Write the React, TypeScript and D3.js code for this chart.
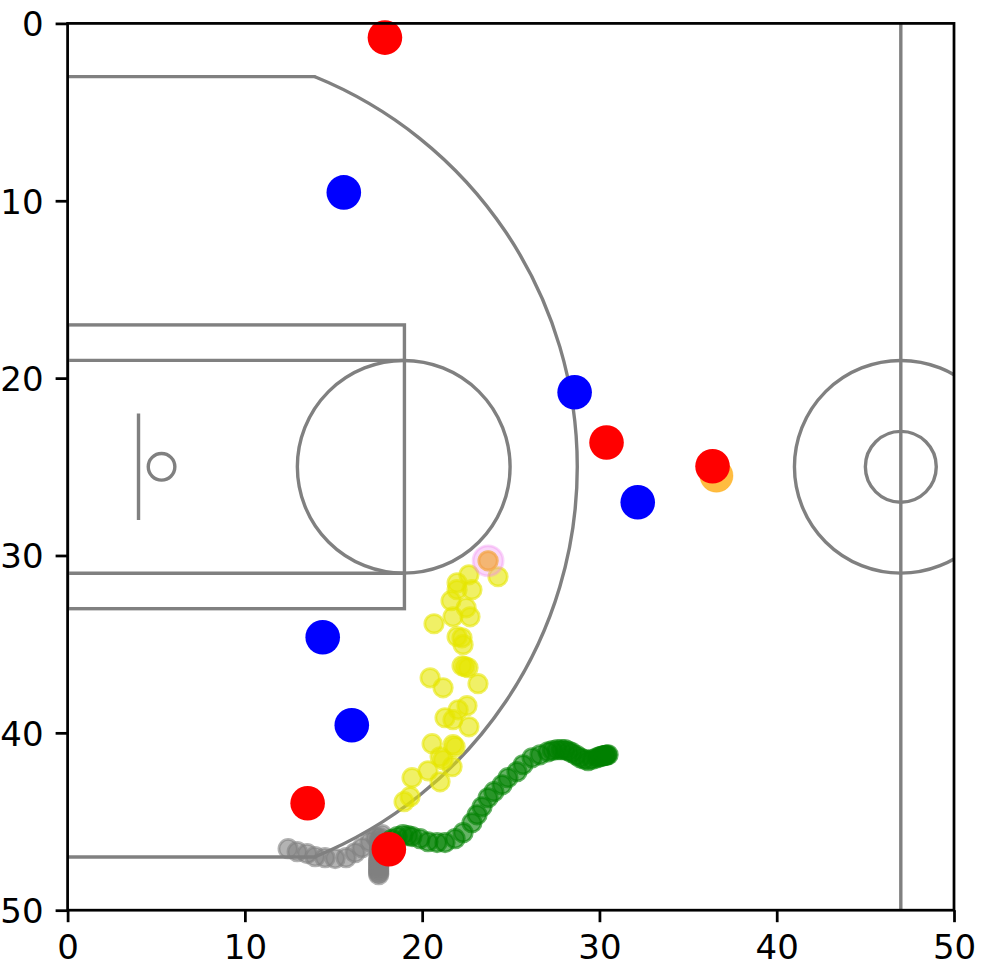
import React, { useEffect, useRef } from "react";
import * as d3 from "d3";

const W = 983;
const H = 979;
const margin = { top: 23.4, right: 29, bottom: 68.8, left: 67.6 };

const xTicks = [0, 10, 20, 30, 40, 50];
const yTicks = [0, 10, 20, 30, 40, 50];

// [x, y] in feet
const yellowTrail = [
  [23.72, 30.3], [24.28, 31.2], [22.64, 31.09], [21.97, 31.54], [22.81, 31.93], [21.97, 31.93],
  [21.63, 32.55], [22.48, 32.95], [22.7, 33.46], [21.74, 33.46], [20.67, 33.85], [21.97, 34.58],
  [22.25, 34.64], [22.31, 35.03], [22.25, 36.22], [22.59, 36.33], [22.42, 36.27], [20.45, 36.9],
  [21.18, 37.46], [23.15, 37.23], [22.53, 38.47], [22.03, 38.7], [21.29, 39.15], [21.74, 39.26],
  [22.64, 39.66], [20.56, 40.61], [21.74, 40.67], [21.86, 40.78], [21.01, 41.35], [21.18, 41.52],
  [21.69, 41.91], [20.33, 42.14], [21.01, 42.76], [19.43, 42.53], [19.32, 43.6], [18.98, 43.88],
];
const greenTrail = [
  [18.3, 46.0], [18.6, 45.85], [18.92, 45.74], [19.2, 45.8], [19.43, 45.85], [19.88, 45.97],
  [20.33, 46.14], [20.84, 46.19], [21.29, 46.19], [21.86, 45.97], [22.31, 45.63], [22.81, 45.07],
  [23.1, 44.62], [23.38, 44.17], [23.72, 43.66], [24.05, 43.32], [24.51, 42.93], [24.84, 42.53],
  [25.35, 42.19], [25.69, 41.8], [26.2, 41.41], [26.65, 41.24], [27.1, 41.07], [27.35, 41.0],
  [27.61, 40.95], [27.85, 40.95], [28.06, 40.95], [28.25, 41.03], [28.45, 41.12], [28.7, 41.27],
  [28.91, 41.41], [29.15, 41.5], [29.36, 41.57], [29.6, 41.5], [29.86, 41.41], [30.0, 41.36],
  [30.1, 41.32], [30.2, 41.3], [30.3, 41.28], [30.35, 41.27], [30.42, 41.25], [30.49, 41.24],
];
const grayTrail = [
  [12.44, 46.53], [12.95, 46.7], [13.51, 46.81], [13.96, 46.98], [14.52, 47.04], [15.09, 47.09],
  [15.71, 47.04], [16.22, 46.76], [16.61, 46.48], [17.06, 46.14], [17.4, 45.9], [17.74, 45.74],
  [17.6, 45.9], [17.6, 46.1], [17.6, 46.3], [17.6, 46.45], [17.6, 46.6], [17.6, 46.75],
  [17.6, 46.9], [17.55, 47.05], [17.55, 47.2], [17.55, 47.3], [17.55, 47.4], [17.55, 47.5],
  [17.55, 47.6], [17.55, 47.7], [17.55, 47.8], [17.55, 47.9], [17.55, 48.0],
];
const redPlayers = [[17.9, 0.8], [30.4, 23.63], [36.38, 24.97], [13.54, 43.97], [18.12, 46.56]];
const bluePlayers = [[15.58, 9.53], [28.6, 20.8], [32.16, 27], [14.39, 34.61], [16.03, 39.57]];
const ballNow = [[36.6, 25.5]];
const ballEnd = [[23.72, 30.3]];
const ringEnd = [[23.72, 30.3]];

export default function App() {
  const xAxisRef = useRef<SVGGElement>(null);
  const yAxisRef = useRef<SVGGElement>(null);

  const x = d3.scaleLinear().domain([0, 50]).range([margin.left, W - margin.right]);
  const y = d3.scaleLinear().domain([0, 50]).range([margin.top, H - margin.bottom]);
  const k = x(1) - x(0);

  useEffect(() => {
    const fmt = (d: d3.NumberValue) => String(d);
    const xAxis = d3.axisBottom(x).tickValues(xTicks).tickFormat(fmt).tickSize(12).tickSizeOuter(0).tickPadding(12.5);
    const yAxis = d3.axisLeft(y).tickValues(yTicks).tickFormat(fmt).tickSize(12).tickSizeOuter(0).tickPadding(12);
    for (const [ref, axis] of [[xAxisRef, xAxis], [yAxisRef, yAxis]] as const) {
      const g = d3.select(ref.current!);
      g.call(axis as any);
      g.select(".domain").remove();
      g.selectAll("line").attr("stroke", "#000").attr("stroke-width", 2.75);
      g.selectAll("text").attr("fill", "#000").attr("font-size", 34).attr("font-family", "'DejaVu Sans'");
    }
    d3.select(yAxisRef.current!).selectAll("text").attr("dy", "0.36em");
  }, []);

  const threeAngle = Math.atan2(8.95, 22);
  const threeArc = d3.arc()({
    innerRadius: 23.75 * k,
    outerRadius: 23.75 * k,
    startAngle: threeAngle,
    endAngle: Math.PI - threeAngle,
  });

  const court = { fill: "none", stroke: "#808080", strokeWidth: 3.4 };
  const trail = (pts: number[][], color: string, r: number, op: number) =>
    pts.map(([a, b], i) => (
      <circle key={color + i} cx={x(a)} cy={y(b)} r={r} fill={color} fillOpacity={op} stroke={color} strokeOpacity={op} strokeWidth={2.8} />
    ));
  const solid = (pts: number[][], color: string, r: number) =>
    pts.map(([a, b], i) => <circle key={color + i} cx={x(a)} cy={y(b)} r={r} fill={color} />);

  return (
    <svg width={W} height={H} style={{ position: "absolute", left: 0, top: 0, display: "block", background: "#fff" }}>
      <defs>
        <clipPath id="plot">
          <rect x={x(0)} y={y(0)} width={x(50) - x(0)} height={y(50) - y(0)} />
        </clipPath>
      </defs>
      <g clipPath="url(#plot)" {...court}>
        <line x1={x(0)} x2={x(14)} y1={y(3)} y2={y(3)} />
        <line x1={x(0)} x2={x(14)} y1={y(47)} y2={y(47)} />
        <path d={threeArc ?? ""} transform={`translate(${x(5)},${y(25)})`} />
        <rect x={x(0)} y={y(17)} width={x(19) - x(0)} height={y(33) - y(17)} />
        <line x1={x(0)} x2={x(19)} y1={y(19)} y2={y(19)} />
        <line x1={x(0)} x2={x(19)} y1={y(31)} y2={y(31)} />
        <circle cx={x(18.96)} cy={y(25)} r={6 * k} />
        <line x1={x(4)} x2={x(4)} y1={y(22)} y2={y(28)} />
        <circle cx={x(5.3)} cy={y(25)} r={0.75 * k} />
        <line x1={x(47)} x2={x(47)} y1={y(0)} y2={y(50)} />
        <circle cx={x(47)} cy={y(25)} r={6 * k} />
        <circle cx={x(47)} cy={y(25)} r={2 * k} />
      </g>
      <g clipPath="url(#plot)">
        {trail(grayTrail, "#808080", 9.2, 0.6)}
        {trail(greenTrail, "#008000", 9.2, 0.6)}
        {trail(yellowTrail, "#e6e600", 9.2, 0.6)}
        {ballEnd.map(([a, b], i) => (
          <circle key={i} cx={x(a)} cy={y(b)} r={9.2} fill="#ffa500" fillOpacity={0.45} stroke="#ffa500" strokeOpacity={0.45} strokeWidth={2.8} />
        ))}
        {ringEnd.map(([a, b], i) => (
          <circle key={i} cx={x(a)} cy={y(b)} r={15} fill="#ee82ee" fillOpacity={0.32} stroke="#ee82ee" strokeOpacity={0.32} strokeWidth={2.8} />
        ))}
        {ballNow.map(([a, b], i) => (
          <circle key={i} cx={x(a)} cy={y(b)} r={16.6} fill="#ffa500" fillOpacity={0.75} stroke="#ffa500" strokeOpacity={0.3} strokeWidth={1} />
        ))}
      </g>
      {solid(bluePlayers, "#0000ff", 17.3)}
      {solid(redPlayers, "#ff0000", 17.3)}
      <rect x={x(0)} y={y(0)} width={x(50) - x(0)} height={y(50) - y(0)} fill="none" stroke="#000" strokeWidth={2.75} />
      <g ref={xAxisRef} transform={`translate(0,${y(50)})`} />
      <g ref={yAxisRef} transform={`translate(${x(0)},0)`} />
    </svg>
  );
}
